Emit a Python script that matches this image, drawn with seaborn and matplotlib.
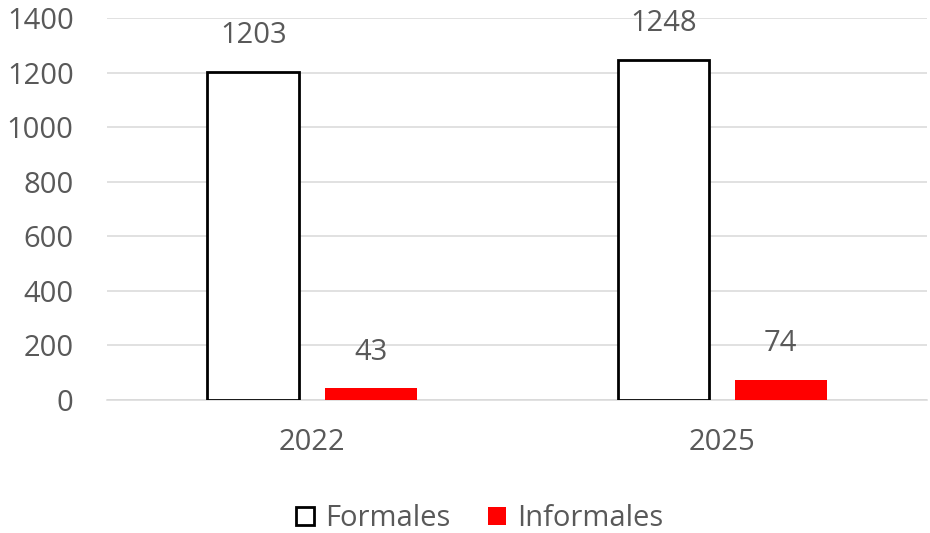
import matplotlib
matplotlib.use("Agg")
import matplotlib.pyplot as plt
import seaborn as sns
import pandas as pd
from matplotlib.patches import Patch

years = ["2022", "2025"]
series = ["Formales", "Informales"]
formales = [1203, 1248]
informales = [43, 74]
y_ticks = [0, 200, 400, 600, 800, 1000, 1200, 1400]

df = pd.DataFrame({
    "year": years * 2,
    "tipo": [series[0]] * len(years) + [series[1]] * len(years),
    "valor": formales + informales,
})

sns.set_theme(style="white")
plt.rcParams["font.family"] = ["Open Sans", "DejaVu Sans"]
text_color = "#595959"
grid_color = "#d9d9d9"
fs = 21

fig = plt.figure(figsize=(9.3, 5.33), dpi=100)
ax = fig.add_axes([0.115, 0.2495, 0.882, 0.7165])

palette = {"Formales": "white", "Informales": "#ff0000"}
sns.barplot(data=df, x="year", y="valor", hue="tipo", hue_order=series,
            order=years, palette=palette, width=0.572, gap=0.217,
            saturation=1, legend=False, ax=ax, zorder=3)

for patch in ax.containers[0]:
    patch.set_edgecolor("black")
    patch.set_linewidth(2.0)
for patch in ax.containers[1]:
    patch.set_edgecolor("none")

for container in ax.containers:
    for patch, val in zip(container, container.datavalues):
        ax.annotate(f"{val:.0f}",
                    (patch.get_x() + patch.get_width() / 2, patch.get_height()),
                    xytext=(0, 26), textcoords="offset points",
                    ha="center", va="center", fontsize=fs, color=text_color)

ax.set_ylim(0, 1400)
ax.set_xlim(-0.5, 1.5)
ax.set_yticks(y_ticks)
ax.yaxis.grid(True, color=grid_color, linewidth=1.1, zorder=0)
ax.set_axisbelow(True)
for s in ["left", "right", "top"]:
    ax.spines[s].set_visible(False)
ax.spines["bottom"].set_color(grid_color)
ax.spines["bottom"].set_linewidth(1.1)
ax.tick_params(axis="y", length=0, pad=24, labelsize=fs, labelcolor=text_color)
ax.tick_params(axis="x", length=0, pad=20, labelsize=fs, labelcolor=text_color)
ax.set_xlabel("")
ax.set_ylabel("")

handles = [Patch(facecolor="white", edgecolor="black", linewidth=2.0),
           Patch(facecolor="#ff0000", edgecolor="none")]
leg = fig.legend(handles, series, loc="center", bbox_to_anchor=(0.516, 0.027),
                 ncol=2, frameon=False, fontsize=fs, handlelength=0.6,
                 handleheight=0.6, handletextpad=0.4, columnspacing=1.3)
for t in leg.get_texts():
    t.set_color(text_color)

fig.savefig("out.png", dpi=100)
